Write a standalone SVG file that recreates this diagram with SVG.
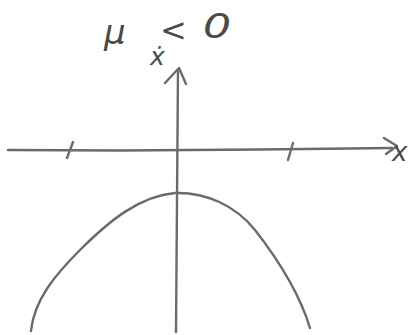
<svg xmlns="http://www.w3.org/2000/svg" width="413" height="335" viewBox="0 0 413 335">
<style>
.pen{fill:none;stroke:#6b6b6b;stroke-width:2.4;stroke-linecap:round;stroke-linejoin:round}
.lbl{font-family:"DejaVu Sans",sans-serif;fill:#4a4a4a;font-style:italic}
</style>
<rect width="413" height="335" fill="#ffffff"/>
<g id="axes">
<path class="pen" d="M8,150 L120,150.5 L260,149.5 L392,148"/>
<path class="pen" d="M384,138 L397,146 L386,154"/>
<path class="pen" d="M178,70 L177,200 L176,332"/>
<path class="pen" d="M165,83 L179,68 L186,84"/>
<path class="pen" d="M73,142 L67,158"/>
<path class="pen" d="M293,143 L288,160"/>
</g>
<g id="curve">
<path class="pen" d="M31,331 C34,300 55,275 80,250 C110,220 140,196 175,193 C205,192 235,205 255,230 C280,262 300,295 310,328"/>
</g>
<g id="labels">
<text class="lbl" x="104" y="44" font-size="34">μ</text>
<text class="lbl" x="160" y="41" font-size="32">&lt;</text>
<text class="lbl" x="203" y="38" font-size="34" transform="translate(203 38) scale(1.3 1) translate(-203 -38)">0</text>
<text class="lbl" x="150" y="65" font-size="25">ẋ</text>
<text class="lbl" x="392" y="161" font-size="26">x</text>
</g>
</svg>
